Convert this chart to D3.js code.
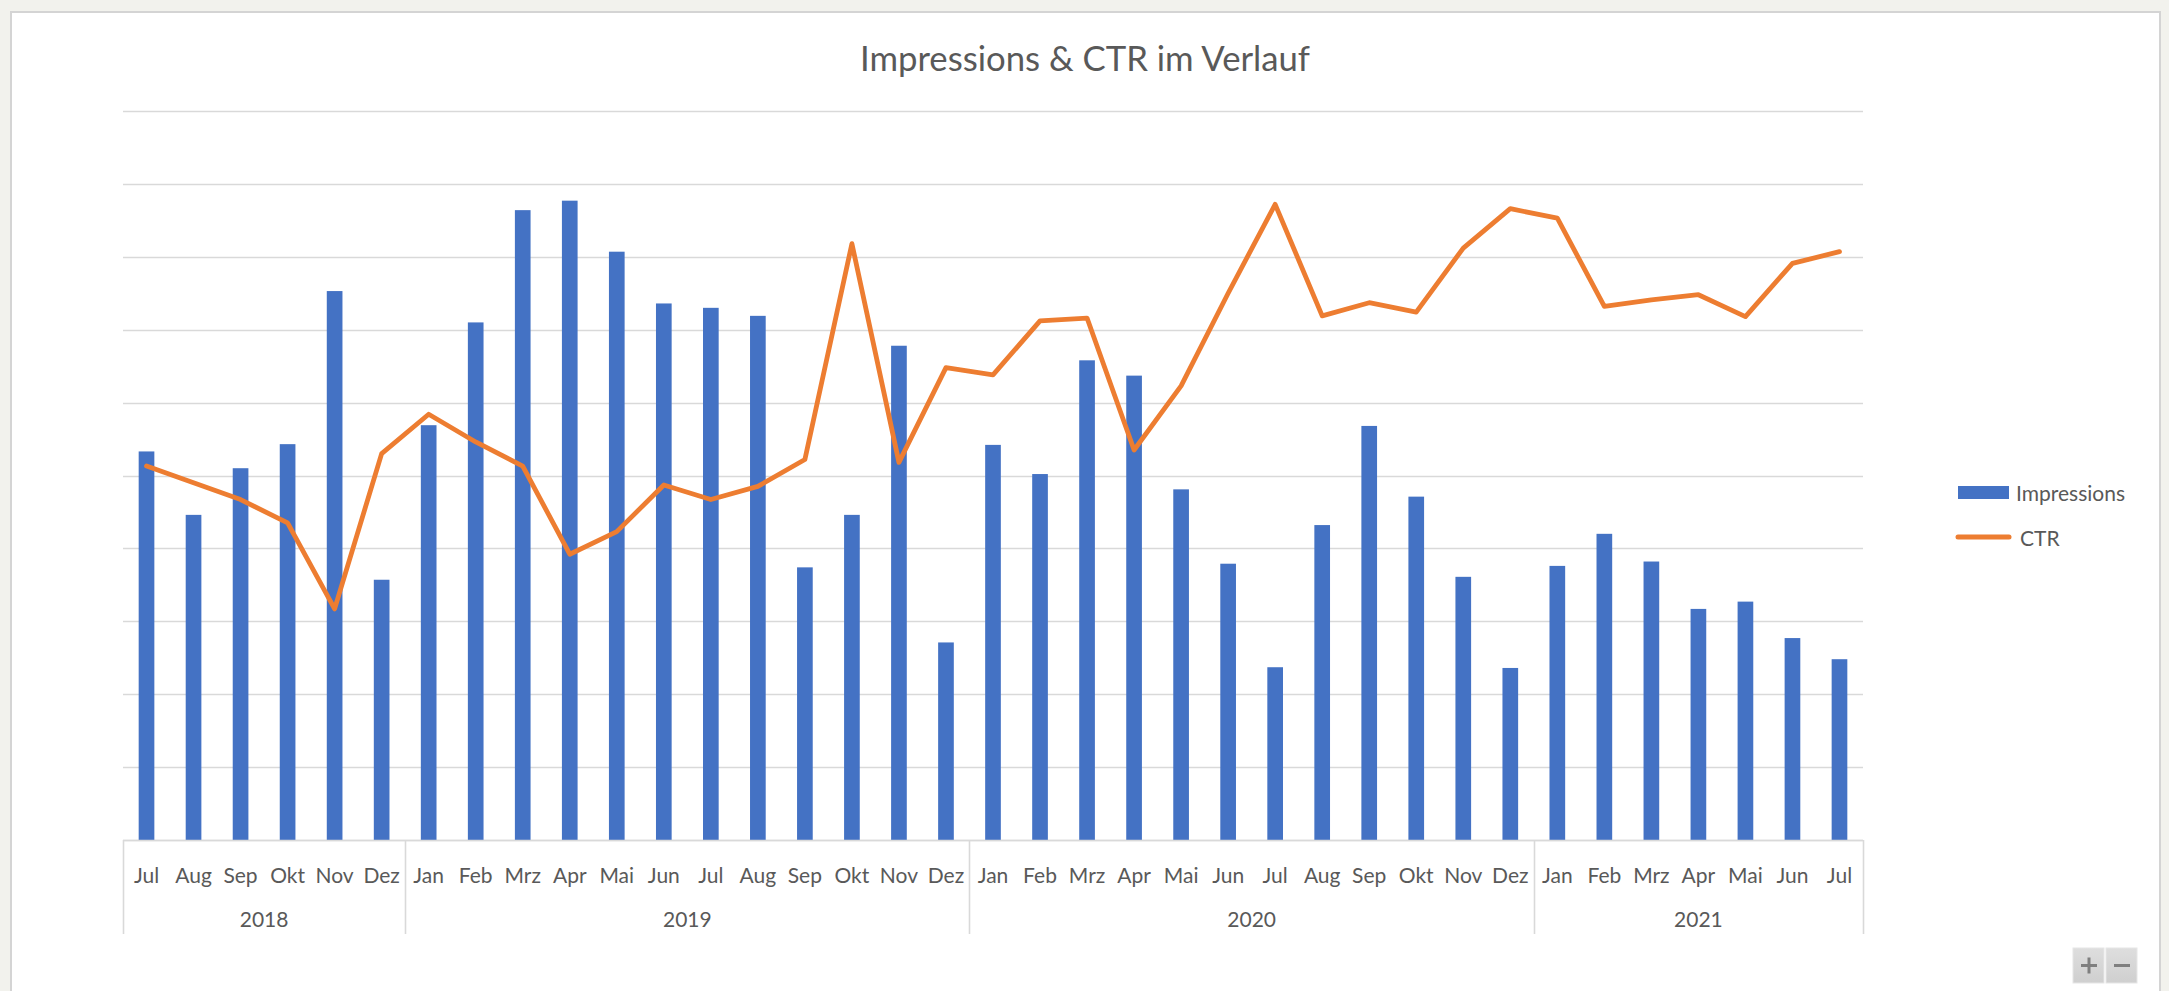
<!DOCTYPE html>
<html>
<head>
<meta charset="utf-8">
<script src="https://cdn.jsdelivr.net/npm/d3@7"></script>
<style>
  html, body { margin: 0; padding: 0; background: #f2f2ed; }
  svg { display: block; }
</style>
</head>
<body>
<svg id="chart" width="2169" height="991"></svg>
<script>
// ---- data ----
const years = ["2018", "2019", "2020", "2021"];
const months = [
  "Jul","Aug","Sep","Okt","Nov","Dez",
  "Jan","Feb","Mrz","Apr","Mai","Jun","Jul","Aug","Sep","Okt","Nov","Dez",
  "Jan","Feb","Mrz","Apr","Mai","Jun","Jul","Aug","Sep","Okt","Nov","Dez",
  "Jan","Feb","Mrz","Apr","Mai","Jun","Jul"
];
const monthYear = [
  "2018","2018","2018","2018","2018","2018",
  "2019","2019","2019","2019","2019","2019","2019","2019","2019","2019","2019","2019",
  "2020","2020","2020","2020","2020","2020","2020","2020","2020","2020","2020","2020",
  "2021","2021","2021","2021","2021","2021","2021"
];
const impressions = [
  533, 446, 510, 543, 753, 357,
  569, 710, 864, 877, 807, 736, 730, 719, 374, 446, 678, 271,
  542, 502, 658, 637, 481, 379, 237, 432, 568, 471, 361, 236,
  376, 420, 382, 317, 327, 277, 248
];
const ctr = [
  5.13, 4.90, 4.67, 4.35, 3.17, 5.30,
  5.84, 5.46, 5.13, 3.92, 4.23, 4.87, 4.67, 4.85, 5.22, 8.18, 5.18, 6.48,
  6.38, 7.12, 7.16, 5.35, 6.23, 7.50, 8.72, 7.19, 7.37, 7.24, 8.12, 8.66,
  8.53, 7.32, 7.41, 7.48, 7.18, 7.91, 8.07
];
const seriesNames = ["Impressions", "CTR"];
const title = "Impressions & CTR im Verlauf";

// ---- layout ----
const W = 2169, H = 991;
const plot = { left: 123, right: 1863, top: 111, bottom: 840 };
const font = "Lato, 'Open Sans', 'DejaVu Sans', sans-serif";
const textColor = "#595959";
const blue = "#4472C4", orange = "#ED7D31", grid = "#d9d9d9";

const svg = d3.select("#chart");

// panel
svg.append("rect").attr("x", 11).attr("y", 12).attr("width", 2149).attr("height", 1000)
  .attr("fill", "#ffffff").attr("stroke", "#d4d4d4").attr("stroke-width", 2);

// scales
const idx = months.map((m, i) => i);
const x = d3.scaleBand().domain(idx).range([plot.left, plot.right]).paddingInner(0).paddingOuter(0);
const yImp = d3.scaleLinear().domain([0, 1000]).range([plot.bottom, plot.top]);
const yCtr = d3.scaleLinear().domain([0, 10]).range([plot.bottom, plot.top]);

// gridlines
svg.append("g").selectAll("line").data(yImp.ticks(10)).join("line")
  .attr("x1", plot.left).attr("x2", plot.right)
  .attr("y1", d => Math.round(yImp(d)) + 0.5).attr("y2", d => Math.round(yImp(d)) + 0.5)
  .attr("stroke", grid).attr("stroke-width", 1.6);

// bars
const barW = x.bandwidth() / 3;
svg.append("g").selectAll("rect").data(impressions).join("rect")
  .attr("x", (d, i) => x(i) + x.bandwidth() / 2 - barW / 2)
  .attr("width", barW)
  .attr("y", d => yImp(d))
  .attr("height", d => yImp(0) - yImp(d))
  .attr("fill", blue);

// axis line
svg.append("line").attr("x1", plot.left).attr("x2", plot.right)
  .attr("y1", plot.bottom + 0.5).attr("y2", plot.bottom + 0.5)
  .attr("stroke", grid).attr("stroke-width", 1.6);

// line
const line = d3.line().x((d, i) => x(i) + x.bandwidth() / 2).y(d => yCtr(d));
svg.append("path").datum(ctr).attr("d", line)
  .attr("fill", "none").attr("stroke", orange).attr("stroke-width", 4.8)
  .attr("stroke-linejoin", "round").attr("stroke-linecap", "round");

// month labels
svg.append("g").selectAll("text").data(months).join("text")
  .attr("x", (d, i) => x(i) + x.bandwidth() / 2)
  .attr("y", 874)
  .attr("text-anchor", "middle").attr("dominant-baseline", "central")
  .attr("font-family", font).attr("font-size", 21).attr("fill", textColor)
  .text(d => d);

// year groups
const groups = years.map(y => {
  const ids = idx.filter(i => monthYear[i] === y);
  return { year: y, start: x(ids[0]), end: x(ids[ids.length - 1]) + x.bandwidth() };
});
const sepX = [groups[0].start, ...groups.map(g => g.end)];
svg.append("g").selectAll("line").data(sepX).join("line")
  .attr("x1", d => Math.round(d) + 0.5).attr("x2", d => Math.round(d) + 0.5)
  .attr("y1", plot.bottom).attr("y2", 934)
  .attr("stroke", grid).attr("stroke-width", 1.6);
svg.append("g").selectAll("text").data(groups).join("text")
  .attr("x", d => (d.start + d.end) / 2)
  .attr("y", 918)
  .attr("text-anchor", "middle").attr("dominant-baseline", "central")
  .attr("font-family", font).attr("font-size", 21).attr("fill", textColor)
  .text(d => d.year);

// title
svg.append("text").attr("x", 1085).attr("y", 57)
  .attr("text-anchor", "middle").attr("dominant-baseline", "central")
  .attr("font-family", font).attr("font-weight", 400).attr("font-size", 34.7).attr("fill", textColor)
  .text(title);

// legend
const lg = svg.append("g");
lg.append("rect").attr("x", 1958).attr("y", 486).attr("width", 51).attr("height", 13).attr("fill", blue);
lg.append("text").attr("x", 2016).attr("y", 492).attr("dominant-baseline", "central")
  .attr("font-family", font).attr("font-size", 21).attr("fill", textColor).text(seriesNames[0]);
lg.append("line").attr("x1", 1958).attr("x2", 2009).attr("y1", 537).attr("y2", 537)
  .attr("stroke", orange).attr("stroke-width", 5).attr("stroke-linecap", "round");
lg.append("text").attr("x", 2020).attr("y", 537).attr("dominant-baseline", "central")
  .attr("font-family", font).attr("font-size", 21).attr("fill", textColor).text(seriesNames[1]);

// zoom buttons
const defs = svg.append("defs");
const grad = defs.append("linearGradient").attr("id", "btn").attr("x1", 0).attr("x2", 0).attr("y1", 0).attr("y2", 1);
grad.append("stop").attr("offset", "0%").attr("stop-color", "#dedede");
grad.append("stop").attr("offset", "100%").attr("stop-color", "#cfcfcf");
const bx = [2073, 2106];
svg.append("g").selectAll("rect").data(bx).join("rect")
  .attr("x", d => d).attr("y", 948).attr("width", 31).attr("height", 35)
  .attr("fill", "url(#btn)").attr("stroke", "#e6e6e6").attr("stroke-width", 1);
svg.append("line").attr("x1", 2081).attr("x2", 2097).attr("y1", 965.5).attr("y2", 965.5).attr("stroke", "#7f7f7f").attr("stroke-width", 3);
svg.append("line").attr("x1", 2089).attr("x2", 2089).attr("y1", 957.5).attr("y2", 973.5).attr("stroke", "#7f7f7f").attr("stroke-width", 3);
svg.append("line").attr("x1", 2114).attr("x2", 2130).attr("y1", 965.5).attr("y2", 965.5).attr("stroke", "#7f7f7f").attr("stroke-width", 3);
</script>
</body>
</html>
